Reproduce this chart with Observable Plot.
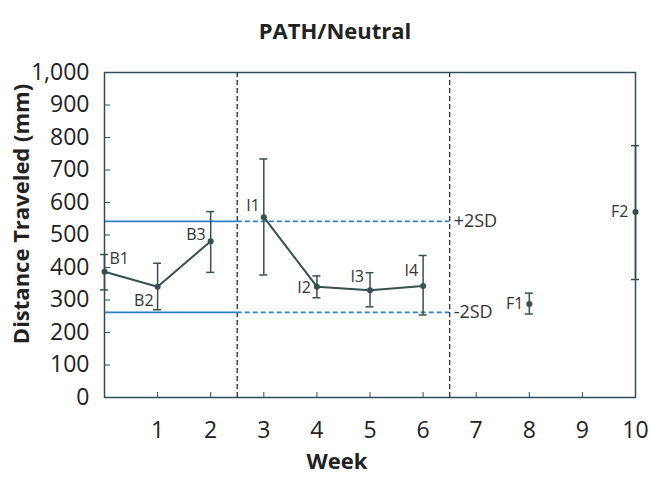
<!DOCTYPE html>
<html><head><meta charset="utf-8">
<script src="https://cdn.jsdelivr.net/npm/d3@7"></script>
<script src="https://cdn.jsdelivr.net/npm/@observablehq/plot@0.6"></script>
<style>body{margin:0;background:#fff} svg{display:block}</style>
</head><body><div id="chart"></div>
<script>
const title = "PATH/Neutral";
const xLabel = "Week";
const yLabel = "Distance Traveled (mm)";

const weeks = [0, 1, 2, 3, 4, 5, 6, 8, 10];
const pointLabels = ["B1", "B2", "B3", "I1", "I2", "I3", "I4", "F1", "F2"];
const phases = ["B", "B", "B", "I", "I", "I", "I", "F", "F"];
const means = [387, 341, 481, 555, 341, 330, 343, 288, 571];
const upper = [440, 413, 572, 734, 374, 384, 437, 321, 775];
const lower = [331, 270, 385, 377, 307, 279, 254, 257, 363];

const xTicks = [1, 2, 3, 4, 5, 6, 7, 8, 9, 10];
const yTicks = [0, 100, 200, 300, 400, 500, 600, 700, 800, 900, 1000];
const phaseBreaks = [2.5, 6.5];
const sdLabels = ["+2SD", "-2SD"];
const sdValues = [542, 262];

const data = weeks.map((w, i) => ({week: w, label: pointLabels[i], phase: phases[i], mean: means[i], hi: upper[i], lo: lower[i]}));
const sd = sdLabels.map((l, i) => ({label: l, value: sdValues[i]}));

// label placement (style)
const labelStyle = {
  B1: {dx: 5, dy: -13, anchor: "start"},
  B2: {dx: -4, dy: 14, anchor: "end"},
  B3: {dx: -5, dy: -6, anchor: "end"},
  I1: {dx: -4, dy: -11, anchor: "end"},
  I2: {dx: -6, dy: 1, anchor: "end"},
  I3: {dx: -6, dy: -13, anchor: "end"},
  I4: {dx: -5, dy: -15, anchor: "end"},
  F1: {dx: -6, dy: 0, anchor: "end"},
  F2: {dx: -7, dy: 0, anchor: "end"}
};

const dark = "#36504f";
const frameC = "#2d4e56";
const blue = "#2f7fc8";
const font = "Open Sans, sans-serif";

const labelMarks = pointLabels.map(l => Plot.text(data.filter(d => d.label === l), {
  x: "week", y: "mean", text: "label", dx: labelStyle[l].dx, dy: labelStyle[l].dy,
  textAnchor: labelStyle[l].anchor, fontSize: 16, fill: "#333"
}));

const chart = Plot.plot({
  width: 650, height: 478,
  marginLeft: 104, marginRight: 15, marginTop: 72, marginBottom: 81,
  style: {fontFamily: font, background: "#fff"},
  x: {domain: [0, 10]},
  y: {domain: [0, 1000]},
  marks: [
    Plot.ruleX(phaseBreaks, {x: d => d, stroke: "#3a3a3a", strokeWidth: 1.4, strokeDasharray: "5,3"}),
    Plot.ruleY(sd, {y: "value", x1: 0, x2: phaseBreaks[0], stroke: blue, strokeWidth: 1.6}),
    Plot.ruleY(sd, {y: "value", x1: phaseBreaks[0], x2: phaseBreaks[1], stroke: blue, strokeWidth: 1.6, strokeDasharray: "5,3"}),
    Plot.text(sd, {x: () => phaseBreaks[1], y: "value", text: "label", textAnchor: "start", dx: 4, fontSize: 18, fill: "#333"}),
    Plot.line(data.filter(d => d.phase !== "F"), {x: "week", y: "mean", z: "phase", stroke: dark, strokeWidth: 2}),
    Plot.ruleX(data, {x: "week", y1: "lo", y2: "hi", stroke: dark, strokeWidth: 1.5}),
    Plot.ruleY(data, {y: "hi", x1: "week", x2: "week", insetLeft: -4, insetRight: -4, stroke: dark, strokeWidth: 1.5}),
    Plot.ruleY(data, {y: "lo", x1: "week", x2: "week", insetLeft: -4, insetRight: -4, stroke: dark, strokeWidth: 1.5}),
    Plot.dot(data, {x: "week", y: "mean", r: 3, fill: dark, stroke: "none"}),
    ...labelMarks,
    Plot.frame({stroke: frameC, strokeWidth: 1.5}),
    Plot.axisY(yTicks, {tickSize: -6, tickFormat: () => "", label: null, stroke: frameC}),
    Plot.axisY(yTicks, {tickSize: 0, tickPadding: 15, tickFormat: d3.format(","), fontSize: 23, label: null, fill: "#222"}),
    Plot.axisX(xTicks, {tickSize: -5, tickFormat: () => "", label: null, stroke: frameC}),
    Plot.axisX(xTicks, {tickSize: 0, tickPadding: 24, fontSize: 23, label: null, fill: "#222"}),
    Plot.text([title], {frameAnchor: "top", dx: -35, dy: -49, fontSize: 22, fontWeight: "bold", fill: "#222"}),
    Plot.text([xLabel], {frameAnchor: "bottom", dx: -33, dy: 71, fontSize: 22, fontWeight: "bold", fill: "#222"}),
    Plot.text([yLabel], {frameAnchor: "left", textAnchor: "middle", dx: -83, dy: -21, rotate: -90, fontSize: 22, fontWeight: "bold", fill: "#222"})
  ]
});
document.getElementById("chart").appendChild(chart);
</script></body></html>
